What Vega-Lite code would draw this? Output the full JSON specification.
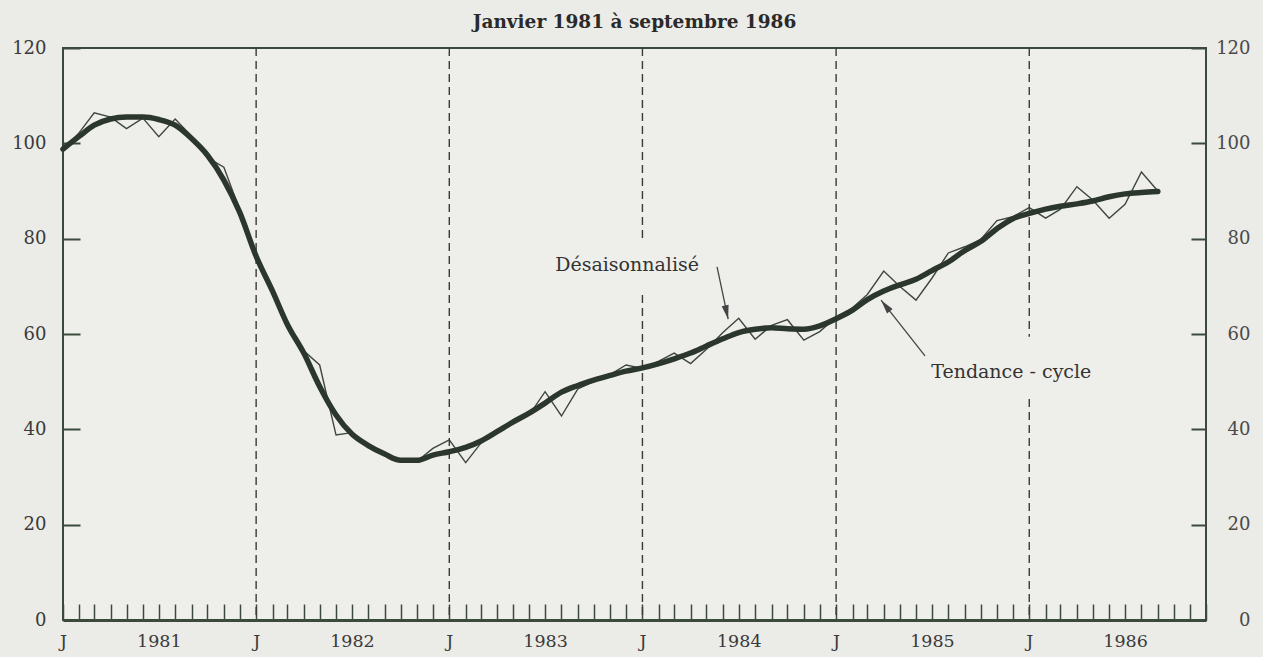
{
  "$schema": "https://vega.github.io/schema/vega-lite/v6.json",
  "width": 1143,
  "height": 572,
  "autosize": {"type": "none"},
  "padding": {"left": 63, "top": 48, "right": 57, "bottom": 37},
  "background": "#ebebe7",
  "config": {
    "view": {"stroke": "#3c4a3e", "strokeWidth": 2, "fill": "#eeeeea"},
    "font": "DejaVu Serif"
  },
  "title": {
    "text": "Janvier 1981 à septembre 1986",
    "font": "DejaVu Serif",
    "fontSize": 18.5,
    "fontWeight": "bold",
    "color": "#2a2a2a",
    "anchor": "middle",
    "offset": 8
  },
  "data": {
    "values": [
      {"date": "1981/01/01", "desaisonnalise": 98.6, "tendance": 98.8},
      {"date": "1981/02/01", "desaisonnalise": 102.3, "tendance": 101.5},
      {"date": "1981/03/01", "desaisonnalise": 106.4, "tendance": 103.8},
      {"date": "1981/04/01", "desaisonnalise": 105.5, "tendance": 105.1},
      {"date": "1981/05/01", "desaisonnalise": 103.1, "tendance": 105.5},
      {"date": "1981/06/01", "desaisonnalise": 105.3, "tendance": 105.5},
      {"date": "1981/07/01", "desaisonnalise": 101.4, "tendance": 105.0},
      {"date": "1981/08/01", "desaisonnalise": 105.1, "tendance": 103.8},
      {"date": "1981/09/01", "desaisonnalise": 101.5, "tendance": 101.0},
      {"date": "1981/10/01", "desaisonnalise": 97.0, "tendance": 97.5},
      {"date": "1981/11/01", "desaisonnalise": 95.0, "tendance": 92.3},
      {"date": "1981/12/01", "desaisonnalise": 86.0, "tendance": 85.5},
      {"date": "1982/01/01", "desaisonnalise": 76.5, "tendance": 76.3},
      {"date": "1982/02/01", "desaisonnalise": 69.5, "tendance": 69.0},
      {"date": "1982/03/01", "desaisonnalise": 62.0, "tendance": 62.0},
      {"date": "1982/04/01", "desaisonnalise": 56.5, "tendance": 56.0},
      {"date": "1982/05/01", "desaisonnalise": 53.5, "tendance": 49.0},
      {"date": "1982/06/01", "desaisonnalise": 38.8, "tendance": 43.0},
      {"date": "1982/07/01", "desaisonnalise": 39.3, "tendance": 39.0},
      {"date": "1982/08/01", "desaisonnalise": 36.5, "tendance": 36.6},
      {"date": "1982/09/01", "desaisonnalise": 34.5, "tendance": 34.8},
      {"date": "1982/10/01", "desaisonnalise": 33.5, "tendance": 33.5},
      {"date": "1982/11/01", "desaisonnalise": 33.3, "tendance": 33.5},
      {"date": "1982/12/01", "desaisonnalise": 36.0, "tendance": 34.6},
      {"date": "1983/01/01", "desaisonnalise": 37.8, "tendance": 35.3},
      {"date": "1983/02/01", "desaisonnalise": 33.0, "tendance": 36.2},
      {"date": "1983/03/01", "desaisonnalise": 37.0, "tendance": 37.5},
      {"date": "1983/04/01", "desaisonnalise": 39.8, "tendance": 39.5},
      {"date": "1983/05/01", "desaisonnalise": 41.5, "tendance": 41.5},
      {"date": "1983/06/01", "desaisonnalise": 43.0, "tendance": 43.4},
      {"date": "1983/07/01", "desaisonnalise": 47.9, "tendance": 45.5},
      {"date": "1983/08/01", "desaisonnalise": 42.8, "tendance": 47.8},
      {"date": "1983/09/01", "desaisonnalise": 48.5, "tendance": 49.2},
      {"date": "1983/10/01", "desaisonnalise": 50.0, "tendance": 50.3},
      {"date": "1983/11/01", "desaisonnalise": 51.5, "tendance": 51.3},
      {"date": "1983/12/01", "desaisonnalise": 53.5, "tendance": 52.2},
      {"date": "1984/01/01", "desaisonnalise": 52.8, "tendance": 52.9},
      {"date": "1984/02/01", "desaisonnalise": 54.3, "tendance": 53.8},
      {"date": "1984/03/01", "desaisonnalise": 56.0, "tendance": 54.8},
      {"date": "1984/04/01", "desaisonnalise": 53.8, "tendance": 56.0},
      {"date": "1984/05/01", "desaisonnalise": 56.8, "tendance": 57.5},
      {"date": "1984/06/01", "desaisonnalise": 60.3, "tendance": 59.0},
      {"date": "1984/07/01", "desaisonnalise": 63.3, "tendance": 60.3},
      {"date": "1984/08/01", "desaisonnalise": 58.9, "tendance": 61.0},
      {"date": "1984/09/01", "desaisonnalise": 61.8, "tendance": 61.3},
      {"date": "1984/10/01", "desaisonnalise": 63.0, "tendance": 61.1},
      {"date": "1984/11/01", "desaisonnalise": 58.7, "tendance": 61.0},
      {"date": "1984/12/01", "desaisonnalise": 60.5, "tendance": 61.7},
      {"date": "1985/01/01", "desaisonnalise": 63.5, "tendance": 63.2},
      {"date": "1985/02/01", "desaisonnalise": 65.5, "tendance": 65.0},
      {"date": "1985/03/01", "desaisonnalise": 68.3, "tendance": 67.2},
      {"date": "1985/04/01", "desaisonnalise": 73.2, "tendance": 69.0},
      {"date": "1985/05/01", "desaisonnalise": 70.0, "tendance": 70.3},
      {"date": "1985/06/01", "desaisonnalise": 67.1, "tendance": 71.5},
      {"date": "1985/07/01", "desaisonnalise": 71.7, "tendance": 73.3},
      {"date": "1985/08/01", "desaisonnalise": 77.0, "tendance": 75.1},
      {"date": "1985/09/01", "desaisonnalise": 78.3, "tendance": 77.5},
      {"date": "1985/10/01", "desaisonnalise": 79.8, "tendance": 79.4},
      {"date": "1985/11/01", "desaisonnalise": 83.8, "tendance": 82.1},
      {"date": "1985/12/01", "desaisonnalise": 84.6, "tendance": 84.2},
      {"date": "1986/01/01", "desaisonnalise": 86.5, "tendance": 85.3},
      {"date": "1986/02/01", "desaisonnalise": 84.3, "tendance": 86.2},
      {"date": "1986/03/01", "desaisonnalise": 86.2, "tendance": 86.8},
      {"date": "1986/04/01", "desaisonnalise": 90.9, "tendance": 87.3},
      {"date": "1986/05/01", "desaisonnalise": 88.1, "tendance": 87.9},
      {"date": "1986/06/01", "desaisonnalise": 84.3, "tendance": 88.8},
      {"date": "1986/07/01", "desaisonnalise": 87.2, "tendance": 89.4},
      {"date": "1986/08/01", "desaisonnalise": 94.0, "tendance": 89.7},
      {"date": "1986/09/01", "desaisonnalise": 90.0, "tendance": 89.9}
    ]
  },
  "layer": [
    {
      "mark": {"type": "line", "stroke": "#3e463f", "strokeWidth": 1.4},
      "encoding": {
        "x": {
          "field": "date",
          "type": "temporal",
          "scale": {
            "nice": false,
            "domain": [
              {"year": 1981, "month": 1, "date": 1},
              {"year": 1986, "month": 12, "date": 1}
            ]
          },
          "axis": {
            "orient": "bottom",
            "title": null,
            "tickCount": "month",
            "tickSize": -16,
            "tickWidth": 1.5,
            "tickColor": "#3c4a3e",
            "domain": true,
            "domainWidth": 3,
            "domainColor": "#3c4a3e",
            "labelExpr": "month(datum.value) == 0 ? 'J' : (month(datum.value) == 6 ? '' + year(datum.value) : '')",
            "labelPadding": 28,
            "labelFont": "DejaVu Serif",
            "labelFontSize": 17.5,
            "labelColor": "#3a3a3a",
            "labelBaseline": "top",
            "labelOverlap": false,
            "labelFlush": false,
            "labelBound": false,
            "grid": false
          }
        },
        "y": {
          "field": "desaisonnalise",
          "type": "quantitative",
          "scale": {"domain": [0, 120], "nice": false, "zero": true},
          "axis": {
            "orient": "left",
            "title": null,
            "values": [0, 20, 40, 60, 80, 100, 120],
            "tickSize": -17,
            "tickWidth": 2,
            "tickColor": "#3c4a3e",
            "domain": false,
            "grid": false,
            "labelPadding": 34,
            "labelFont": "DejaVu Serif",
            "labelFontSize": 18,
            "labelColor": "#3a3a3a"
          }
        }
      }
    },
    {
      "transform": [{"filter": "month(datum.date) == 0 && year(datum.date) > 1981"}],
      "mark": {"type": "rule", "stroke": "#3a3a3a", "strokeWidth": 1.4, "strokeDash": [8, 5]},
      "encoding": {
        "x": {"field": "date", "type": "temporal", "axis": null}
      }
    },
    {
      "data": {"values": [{}]},
      "mark": {"type": "rect", "fill": "#eeeeea"},
      "encoding": {
        "x": {"datum": {"year": 1983, "month": 12, "date": 8}, "type": "temporal", "axis": null},
        "x2": {"datum": {"year": 1984, "month": 1, "date": 15}},
        "y": {"datum": 79.7, "type": "quantitative", "axis": null},
        "y2": {"datum": 69.2}
      }
    },
    {
      "data": {"values": [{}]},
      "mark": {"type": "rect", "fill": "#eeeeea"},
      "encoding": {
        "x": {"datum": {"year": 1985, "month": 12, "date": 12}, "type": "temporal", "axis": null},
        "x2": {"datum": {"year": 1986, "month": 1, "date": 19}},
        "y": {"datum": 59.4, "type": "quantitative", "axis": null},
        "y2": {"datum": 46.6}
      }
    },
    {
      "mark": {"type": "line", "stroke": "#2b362c", "strokeWidth": 5.5, "interpolate": "monotone", "strokeCap": "round"},
      "encoding": {
        "x": {"field": "date", "type": "temporal", "axis": null},
        "y": {
          "field": "tendance",
          "type": "quantitative",
          "axis": {
            "orient": "right",
            "title": null,
            "values": [0, 20, 40, 60, 80, 100, 120],
            "tickSize": -15,
            "tickWidth": 2,
            "tickColor": "#3c4a3e",
            "domain": false,
            "grid": false,
            "labelAlign": "right",
            "labelPadding": 59,
            "labelFont": "DejaVu Serif",
            "labelFontSize": 18,
            "labelColor": "#4a4a4a"
          }
        }
      }
    },
    {
      "data": {"values": [{}]},
      "mark": {"type": "text", "font": "DejaVu Serif", "fontSize": 19, "color": "#333333", "align": "center", "baseline": "middle"},
      "encoding": {
        "x": {"datum": {"year": 1983, "month": 12, "date": 3}, "type": "temporal", "axis": null},
        "y": {"datum": 74.5, "type": "quantitative", "axis": null},
        "text": {"value": "Désaisonnalisé"}
      }
    },
    {
      "data": {"values": [{}]},
      "mark": {"type": "text", "font": "DejaVu Serif", "fontSize": 19, "color": "#333333", "align": "center", "baseline": "middle"},
      "encoding": {
        "x": {"datum": {"year": 1985, "month": 11, "date": 28}, "type": "temporal", "axis": null},
        "y": {"datum": 52, "type": "quantitative", "axis": null},
        "text": {"value": "Tendance - cycle"}
      }
    },
    {
      "data": {"values": [{}]},
      "mark": {"type": "rule", "stroke": "#444444", "strokeWidth": 1.3},
      "encoding": {
        "x": {"datum": {"year": 1984, "month": 5, "date": 21}, "type": "temporal", "axis": null},
        "y": {"datum": 74.1, "type": "quantitative", "axis": null},
        "x2": {"datum": {"year": 1984, "month": 6, "date": 11}},
        "y2": {"datum": 63.1}
      }
    },
    {
      "data": {"values": [{}]},
      "mark": {"type": "rule", "stroke": "#444444", "strokeWidth": 1.3},
      "encoding": {
        "x": {"datum": {"year": 1985, "month": 6, "date": 18}, "type": "temporal", "axis": null},
        "y": {"datum": 55.4, "type": "quantitative", "axis": null},
        "x2": {"datum": {"year": 1985, "month": 3, "date": 27}},
        "y2": {"datum": 67.1}
      }
    },
    {
      "data": {"values": [{}]},
      "mark": {"type": "point", "shape": "M0,0L0.5,2L-0.5,2Z", "filled": true, "fill": "#444444", "opacity": 1, "size": 200, "angle": 167.6, "strokeWidth": 0},
      "encoding": {
        "x": {"datum": {"year": 1984, "month": 6, "date": 11}, "type": "temporal", "axis": null},
        "y": {"datum": 63.1, "type": "quantitative", "axis": null}
      }
    },
    {
      "data": {"values": [{}]},
      "mark": {"type": "point", "shape": "M0,0L0.5,2L-0.5,2Z", "filled": true, "fill": "#444444", "opacity": 1, "size": 200, "angle": 321.8, "strokeWidth": 0},
      "encoding": {
        "x": {"datum": {"year": 1985, "month": 3, "date": 27}, "type": "temporal", "axis": null},
        "y": {"datum": 67.1, "type": "quantitative", "axis": null}
      }
    }
  ],
  "resolve": {"axis": {"x": "independent", "y": "independent"}}
}
